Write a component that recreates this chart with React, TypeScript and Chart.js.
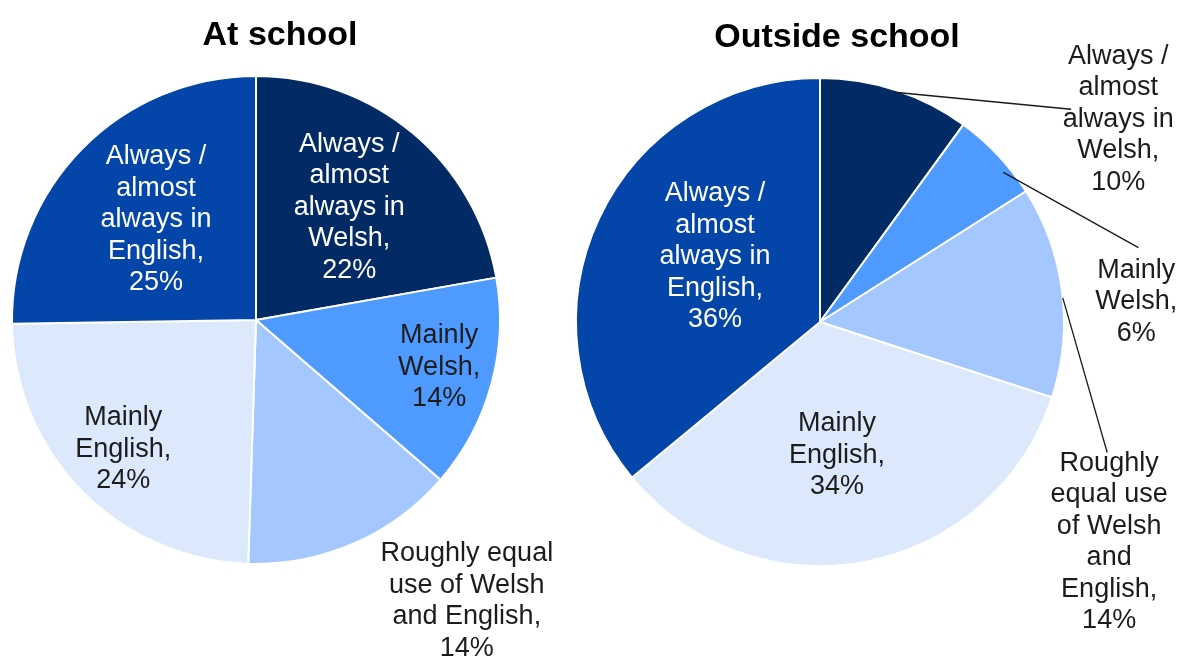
import React, { useEffect, useRef } from "react";
import { Chart, registerables } from "chart.js";

Chart.register(...registerables);

// ---- Data ----
const CATEGORIES = [
  "Always / almost always in Welsh",
  "Mainly Welsh",
  "Roughly equal use of Welsh and English",
  "Mainly English",
  "Always / almost always in English",
];
const AT_SCHOOL_VALUES = [22, 14, 14, 24, 25];
const OUTSIDE_SCHOOL_VALUES = [10, 6, 14, 34, 36];
const AT_SCHOOL_TITLE = "At school";
const OUTSIDE_SCHOOL_TITLE = "Outside school";

// wrapped category text for each slice label (value is appended)
const AT_SCHOOL_LABEL_LINES = [
  ["Always /", "almost", "always in", "Welsh,"],
  ["Mainly", "Welsh,"],
  ["Roughly equal", "use of Welsh", "and English,"],
  ["Mainly", "English,"],
  ["Always /", "almost", "always in", "English,"],
];
const OUTSIDE_SCHOOL_LABEL_LINES = [
  ["Always /", "almost", "always in", "Welsh,"],
  ["Mainly", "Welsh,"],
  ["Roughly", "equal use", "of Welsh", "and", "English,"],
  ["Mainly", "English,"],
  ["Always /", "almost", "always in", "English,"],
];

// ---- Styles ----
const SLICE_COLORS = ["#022b66", "#4f9aff", "#a3c7fe", "#dce9fd", "#0345a9"];
const INSIDE_TEXT_COLORS = ["#ffffff", "#1c1c1c", "#1c1c1c", "#1c1c1c", "#ffffff"];
const OUTSIDE_TEXT_COLOR = "#1c1c1c";
const FONT_FAMILY = '"Liberation Sans", Arial, Helvetica, sans-serif';
const LABEL_FONT_SIZE = 27;
const LABEL_LINE_HEIGHT = 31.5;
const TITLE_FONT_SIZE = 34;

type LabelPlacement =
  | { kind: "polar"; t: number; f: number; outside?: boolean }
  | {
      kind: "offset";
      dx: number;
      dy: number;
      lead: { t: number; f: number; ex: number; ey: number };
    };

const AT_SCHOOL_PLACEMENT: LabelPlacement[] = [
  { kind: "polar", t: 0.494, f: 0.6 },
  { kind: "polar", t: 0.48, f: 0.775 },
  { kind: "polar", t: 0.24, f: 1.44, outside: true },
  { kind: "polar", t: 0.503, f: 0.76 },
  { kind: "polar", t: 0.505, f: 0.58 },
];
const OUTSIDE_SCHOOL_PLACEMENT: LabelPlacement[] = [
  { kind: "offset", dx: 1.222, dy: -0.831, lead: { t: 0.5, f: 0.99, ex: 1.029, ey: -0.872 } },
  { kind: "offset", dx: 1.296, dy: -0.082, lead: { t: 0.685, f: 0.97, ex: 1.305, ey: -0.305 } },
  { kind: "offset", dx: 1.185, dy: 0.901, lead: { t: 0.53, f: 1.0, ex: 1.177, ey: 0.535 } },
  { kind: "polar", t: 0.529, f: 0.55 },
  { kind: "polar", t: 0.551, f: 0.506 },
];

const labelPlugin = {
  id: "pieLabels",
  afterDraw(chart: any, _args: any, opts: any) {
    const ctx = chart.ctx as CanvasRenderingContext2D;
    const meta = chart.getDatasetMeta(0);
    const values = chart.data.datasets[0].data as number[];
    const placements: LabelPlacement[] = opts.placements;
    const lines: string[][] = opts.lines;
    ctx.save();
    // title
    ctx.font = `bold ${TITLE_FONT_SIZE}px ${FONT_FAMILY}`;
    ctx.fillStyle = "#000000";
    ctx.textAlign = "center";
    ctx.textBaseline = "alphabetic";
    ctx.fillText(opts.title, opts.titleX, opts.titleY);

    ctx.font = `${LABEL_FONT_SIZE}px ${FONT_FAMILY}`;
    ctx.textBaseline = "middle";
    meta.data.forEach((arc: any, i: number) => {
      const p = placements[i];
      const { x: cx, y: cy, startAngle, endAngle, outerRadius: r } = arc.getProps(
        ["x", "y", "startAngle", "endAngle", "outerRadius"],
        true
      );
      let lx: number, ly: number;
      let color = INSIDE_TEXT_COLORS[i];
      if (p.kind === "polar") {
        const a = startAngle + (endAngle - startAngle) * p.t;
        lx = cx + Math.cos(a) * r * p.f;
        ly = cy + Math.sin(a) * r * p.f;
        if (p.outside) color = OUTSIDE_TEXT_COLOR;
      } else {
        lx = cx + p.dx * r;
        ly = cy + p.dy * r;
        color = OUTSIDE_TEXT_COLOR;
        const a = startAngle + (endAngle - startAngle) * p.lead.t;
        const sx = cx + Math.cos(a) * r * p.lead.f;
        const sy = cy + Math.sin(a) * r * p.lead.f;
        ctx.beginPath();
        ctx.moveTo(sx, sy);
        ctx.lineTo(cx + p.lead.ex * r, cy + p.lead.ey * r);
        ctx.strokeStyle = "#1a1a1a";
        ctx.lineWidth = 1.3;
        ctx.stroke();
      }
      const textLines = [...lines[i], `${values[i]}%`];
      const n = textLines.length;
      ctx.fillStyle = color;
      textLines.forEach((t, k) => {
        ctx.fillText(t, lx, ly + (k - (n - 1) / 2) * LABEL_LINE_HEIGHT);
      });
    });
    ctx.restore();
  },
};

type PieProps = {
  values: number[];
  lines: string[][];
  placements: LabelPlacement[];
  title: string;
  titleX: number;
  titleY: number;
  left: number;
  width: number;
  padding: { left: number; right: number; top: number; bottom: number };
};

function PieChart(props: PieProps) {
  const ref = useRef<HTMLCanvasElement | null>(null);
  useEffect(() => {
    if (!ref.current) return;
    const chart = new Chart(ref.current, {
      type: "pie",
      data: {
        labels: CATEGORIES,
        datasets: [
          {
            data: props.values,
            backgroundColor: SLICE_COLORS,
            borderColor: "#ffffff",
            borderWidth: 2,
          },
        ],
      },
      options: {
        responsive: false,
        animation: false,
        events: [],
        layout: { padding: props.padding },
        plugins: {
          legend: { display: false },
          title: { display: false },
          tooltip: { enabled: false },
          pieLabels: {
            placements: props.placements,
            lines: props.lines,
            title: props.title,
            titleX: props.titleX,
            titleY: props.titleY,
          },
        } as any,
      },
      plugins: [labelPlugin],
    });
    return () => chart.destroy();
  }, []);
  return (
    <canvas
      ref={ref}
      width={props.width}
      height={659}
      style={{ position: "absolute", left: props.left, top: 0, width: props.width, height: 659 }}
    />
  );
}

export default function App() {
  return (
    <div
      style={{
        position: "fixed",
        left: 0,
        top: 0,
        width: 1186,
        height: 659,
        background: "#ffffff",
        overflow: "hidden",
      }}
    >
      <PieChart
        values={AT_SCHOOL_VALUES}
        lines={AT_SCHOOL_LABEL_LINES}
        placements={AT_SCHOOL_PLACEMENT}
        title={AT_SCHOOL_TITLE}
        titleX={280}
        titleY={45}
        left={0}
        width={560}
        padding={{ left: 11, right: 59, top: 75, bottom: 94 }}
      />
      <PieChart
        values={OUTSIDE_SCHOOL_VALUES}
        lines={OUTSIDE_SCHOOL_LABEL_LINES}
        placements={OUTSIDE_SCHOOL_PLACEMENT}
        title={OUTSIDE_SCHOOL_TITLE}
        titleX={277}
        titleY={47}
        left={560}
        width={626}
        padding={{ left: 15, right: 121, top: 77, bottom: 92 }}
      />
    </div>
  );
}
